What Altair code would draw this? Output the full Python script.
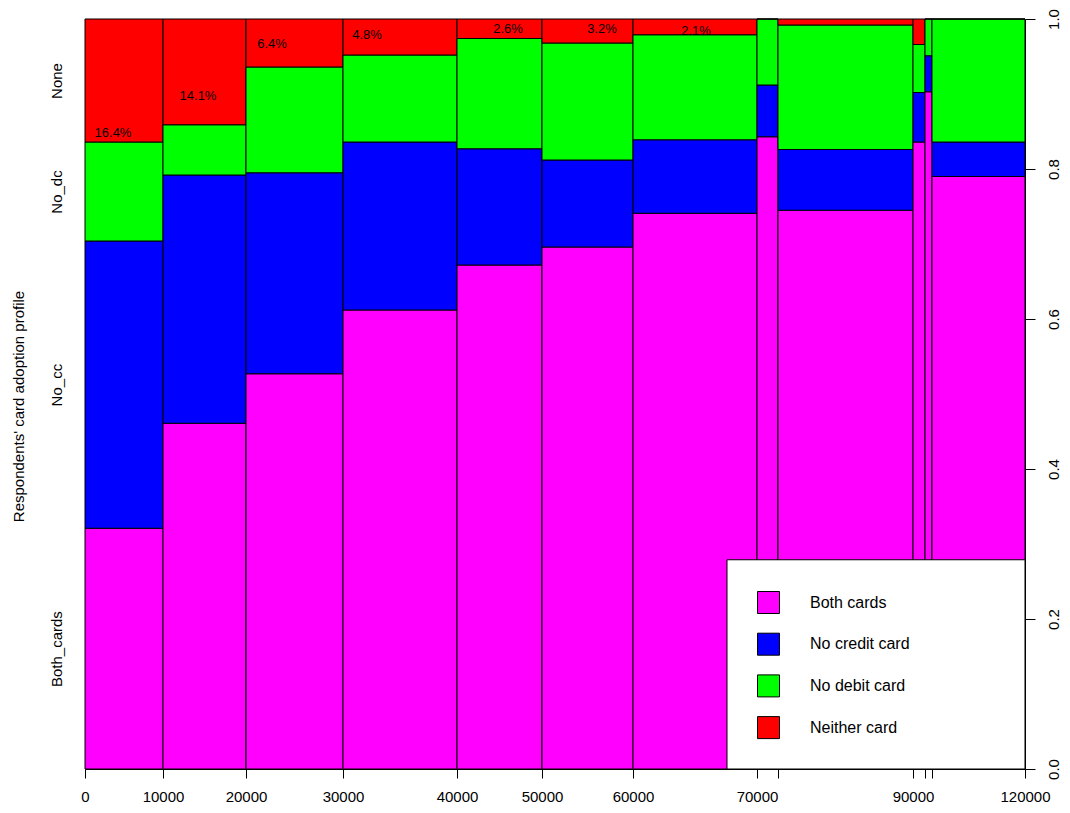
import json
import altair as alt
import pandas as pd

# ---------------- data ----------------
# income bins (spineplot): share of respondents in each bin (relative widths)
bin_weight = [78, 83, 97, 114, 85, 91, 124, 21, 135, 12, 7, 93]
break_labels = ["0", "10000", "20000", "30000", "40000", "50000", "60000",
                "70000", "", "90000", "", "", "120000"]

# proportions in each bin (bottom -> top)
share_both = [0.321, 0.461, 0.527, 0.612, 0.672, 0.696, 0.741, 0.843, 0.745, 0.836, 0.903, 0.790]
share_no_cc = [0.383, 0.331, 0.268, 0.224, 0.155, 0.116, 0.098, 0.069, 0.081, 0.066, 0.048, 0.046]
share_no_dc = [0.132, 0.067, 0.141, 0.116, 0.147, 0.156, 0.140, 0.088, 0.166, 0.064, 0.049, 0.164]
share_none = [0.164, 0.141, 0.064, 0.048, 0.026, 0.032, 0.021, 0.000, 0.008, 0.034, 0.000, 0.000]

legend_names = ["Both cards", "No credit card", "No debit card", "Neither card"]
axis_names = ["Both_cards", "No_cc", "No_dc", "None"]
colors = ["#FF00FF", "#0000FF", "#00FF00", "#FF0000"]

pct_text = ["16.4%", "14.1%", "6.4%", "4.8%", "2.6%", "3.2%", "2.1%"]
pct_x = [28, 113, 187, 282, 423, 517, 611]
pct_y = [0.848, 0.897, 0.967, 0.979, 0.987, 0.987, 0.984]

# legend panel (in chart coordinates)
panel_x = [642, 940]
panel_y = [0.0, 0.279]

# ---------------- tables ----------------
edges = [0]
for w in bin_weight:
    edges.append(edges[-1] + w)
total = edges[-1]

shares = [share_both, share_no_cc, share_no_dc, share_none]
rows = []
for i in range(len(bin_weight)):
    cum = 0.0
    for k, name in enumerate(legend_names):
        v = shares[k][i]
        rows.append({"x0": edges[i], "x1": edges[i + 1], "y0": cum, "y1": cum + v, "cat": name})
        cum += v
bars_df = pd.DataFrame(rows)

# left-axis label positions: middle of each segment of the first bar
mids = []
cum = 0.0
for k in range(4):
    v = shares[k][0]
    mids.append(round(cum + v / 2, 4))
    cum += v

pct_df = pd.DataFrame({"x0": pct_x, "y0": pct_y, "t": pct_text})
panel_df = pd.DataFrame({"x0": [panel_x[0]], "x1": [panel_x[1]], "y0": [panel_y[0]], "y1": [panel_y[1]]})

FONT = "Liberation Sans"

xscale = alt.Scale(domain=[0, total], nice=False, zero=False)
yscale = alt.Scale(domain=[0, 1], nice=False)

xaxis = alt.Axis(
    orient="bottom", values=edges, title=None,
    labelExpr=f"{json.dumps(break_labels)}[indexof({json.dumps(edges)}, datum.value)]",
    labelOverlap=False, labelFlush=False, grid=False,
    tickSize=9, labelPadding=11, labelFontSize=15, labelColor="black",
    domainColor="black", tickColor="black",
)
right_axis = alt.Axis(
    orient="right", values=[0, 0.2, 0.4, 0.6, 0.8, 1.0], format=".1f", title=None,
    labelAngle=270, labelAlign="center", labelBaseline="top",
    labelOverlap=False, labelFlush=False, grid=False,
    tickSize=10, labelPadding=11, labelFontSize=15, labelColor="black",
    domainColor="black", tickColor="black",
)
left_axis = alt.Axis(
    orient="left", values=mids,
    labelExpr=f"{json.dumps(axis_names)}[indexof({json.dumps(mids)}, datum.value)]",
    labelAngle=270, labelAlign="center", labelBaseline="alphabetic",
    labelOverlap=False, labelFlush=False, grid=False,
    ticks=False, tickSize=0, domain=False, labelPadding=24,
    labelFontSize=15, labelColor="black",
    title="Respondents' card adoption profile", titleFontSize=15,
    titleFontWeight="normal", titleColor="black", titleAngle=270,
    titleBaseline="alphabetic", titleX=-62, titleY=387, titleAlign="center",
)

bars = alt.Chart(bars_df).mark_rect(stroke="black", strokeWidth=1).encode(
    x=alt.X("x0:Q", scale=xscale, axis=xaxis),
    x2="x1:Q",
    y=alt.Y("y0:Q", scale=yscale, axis=right_axis),
    y2="y1:Q",
    color=alt.Color(
        "cat:N",
        scale=alt.Scale(domain=legend_names, range=colors),
        legend=alt.Legend(
            orient="none", legendX=672, legendY=572, title=None,
            symbolType="square", symbolSize=484, symbolStrokeColor="black",
            symbolStrokeWidth=1, symbolOpacity=1,
            labelFontSize=16, labelOffset=30, rowPadding=14.7, padding=0,
            labelColor="black",
        ),
    ),
)

panel = alt.Chart(panel_df).mark_rect(fill="white", stroke="black", strokeWidth=1).encode(
    x=alt.X("x0:Q", scale=xscale, axis=xaxis),
    x2="x1:Q",
    y=alt.Y("y0:Q", scale=yscale, axis=None),
    y2="y1:Q",
)

labels = alt.Chart(pct_df).mark_text(fontSize=13, color="black", align="center", baseline="middle").encode(
    x=alt.X("x0:Q", scale=xscale, axis=xaxis),
    y=alt.Y("y0:Q", scale=yscale, axis=left_axis),
    text="t:N",
)

chart = (
    alt.layer(bars, panel, labels)
    .resolve_axis(y="independent")
    .properties(
        width=940, height=750,
        autosize=alt.AutoSizeParams(type="none"),
        padding={"left": 77, "top": 11, "right": 37, "bottom": 37},
    )
    .configure(font=FONT, background="white")
    .configure_view(stroke=None)
)

chart.save("out.html", embed_options={"renderer": "svg", "actions": False})
